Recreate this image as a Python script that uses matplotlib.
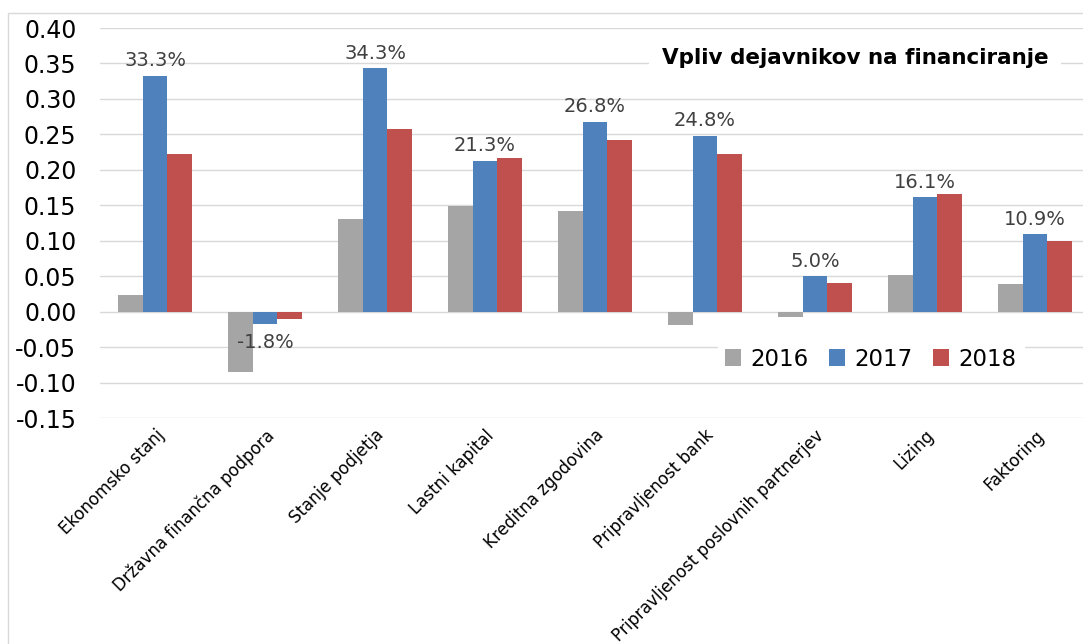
import numpy as np
import matplotlib.pyplot as plt
from matplotlib.patches import Rectangle

categories = ["Ekonomsko stanj", "Državna finančna podpora", "Stanje podjetja",
              "Lastni kapital", "Kreditna zgodovina", "Pripravljenost bank",
              "Pripravljenost poslovnih partnerjev", "Lizing", "Faktoring"]
y2016 = [0.024, -0.085, 0.130, 0.149, 0.142, -0.019, -0.007, 0.052, 0.039]
y2017 = [0.333, -0.018, 0.343, 0.213, 0.268, 0.248, 0.050, 0.161, 0.109]
y2018 = [0.222, -0.010, 0.258, 0.217, 0.242, 0.222, 0.041, 0.166, 0.100]
labels2017 = ["33.3%", "-1.8%", "34.3%", "21.3%", "26.8%", "24.8%", "5.0%", "16.1%", "10.9%"]
yticks = [-0.15, -0.10, -0.05, 0.00, 0.05, 0.10, 0.15, 0.20, 0.25, 0.30, 0.35, 0.40]

plt.rcParams['font.family'] = ['DejaVu Sans']

W, H = 1083, 644
fig = plt.figure(figsize=(W / 100, H / 100), dpi=100)
# axes run a bit past the right edge, as in the cropped original
ax = fig.add_axes([100 / W, (H - 418) / H, 990 / W, 390 / H])

x = np.arange(len(categories))
w = 0.222
ax.bar(x - w, y2016, w, color="#A5A5A5", label="2016", zorder=2)
ax.bar(x, y2017, w, color="#4F81BD", label="2017", zorder=2)
ax.bar(x + w, y2018, w, color="#C0504D", label="2018", zorder=2)

for xi, v, lab in zip(x, y2017, labels2017):
    if v >= 0:
        ax.annotate(lab, (xi, v), xytext=(0, 4), textcoords="offset points",
                    ha="center", va="bottom", fontsize=14, color="#404040")
    else:
        ax.annotate(lab, (xi, v), xytext=(0, -6), textcoords="offset points",
                    ha="center", va="top", fontsize=14, color="#404040", zorder=3)

ax.set_xlim(-0.5, 8.5)
ax.set_ylim(-0.15, 0.40)
ax.set_yticks(yticks)
ax.set_yticklabels([f"{t:.2f}" for t in yticks], fontsize=17)
ax.set_xticks(x)
ax.set_xticklabels(categories, rotation=45, ha="right", va="top",
                   rotation_mode="anchor", fontsize=12)
ax.tick_params(axis="both", length=0)
ax.tick_params(axis="y", pad=17)
ax.tick_params(axis="x", pad=6)
ax.grid(axis="y", color="#D9D9D9", linewidth=1, zorder=0)
for s in ax.spines.values():
    s.set_visible(False)

leg = ax.legend(loc="center", bbox_to_anchor=((871 - 100) / 990, (418 - 359) / 390),
                ncol=3, fontsize=16.5, frameon=True, handlelength=0.7,
                handleheight=0.7, handletextpad=0.4, columnspacing=0.9,
                borderpad=0.3, fancybox=False)
leg.get_frame().set_facecolor("white")
leg.get_frame().set_edgecolor("white")
leg.get_frame().set_alpha(1)

fig.text(855 / W, (H - 58) / H, "Vpliv dejavnikov na financiranje",
         ha="center", va="center", fontsize=15.5, fontweight="bold",
         bbox=dict(facecolor="white", edgecolor="none", pad=9))

fig.patches.append(Rectangle((8 / W, -0.01), 1.1, (H - 13) / H + 0.01,
                             transform=fig.transFigure, fill=False,
                             edgecolor="#D9D9D9", linewidth=1))

fig.savefig("out.png", dpi=100)
